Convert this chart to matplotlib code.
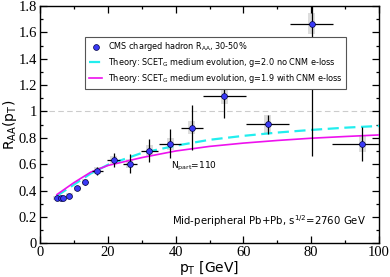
import numpy as np
import matplotlib.pyplot as plt
from matplotlib.patches import Rectangle

# CMS charged hadron R_AA, 30-50%
pt = [4.9, 6.2, 6.9, 8.6, 11.0, 13.3, 16.9, 21.7, 26.5, 32.2, 38.4, 44.8, 54.4, 67.2, 80.1, 95.1]
raa = [0.346, 0.341, 0.346, 0.361, 0.417, 0.463, 0.549, 0.632, 0.604, 0.703, 0.756, 0.877, 1.12, 0.902, 1.664, 0.751]
pt_err = [0.4, 0.4, 0.4, 0.6, 0.8, 0.9, 1.6, 2.0, 2.0, 2.5, 3.2, 3.2, 6.3, 6.3, 6.4, 9.0]
raa_err = [0.01, 0.01, 0.01, 0.012, 0.015, 0.02, 0.03, 0.05, 0.07, 0.09, 0.11, 0.17, 0.17, 0.07, 1.0, 0.13]
raa_sys = [0.015, 0.015, 0.015, 0.017, 0.02, 0.022, 0.027, 0.032, 0.035, 0.04, 0.045, 0.05, 0.06, 0.07, 0.08, 0.06]

# theory curves
pt_th = [5, 10, 15, 20, 25, 30, 40, 50, 60, 70, 80, 90, 100]
raa_nocnm = [0.36, 0.445, 0.53, 0.595, 0.64, 0.685, 0.74, 0.785, 0.815, 0.84, 0.86, 0.877, 0.89]
raa_cnm = [0.37, 0.46, 0.54, 0.59, 0.62, 0.65, 0.70, 0.735, 0.76, 0.78, 0.797, 0.81, 0.822]

xticklab = ['0', '20', '40', '60', '80', '100']
yticklab = ['0', '0.2', '0.4', '0.6', '0.8', '1', '1.2', '1.4', '1.6', '1.8']

fig = plt.figure(figsize=(3.9, 2.77), dpi=100)
ax = fig.add_axes([0.1026, 0.1217, 0.8692, 0.8566])

ax.axhline(1.0, color='#cccccc', lw=0.8, ls=(0, (5, 3)), zorder=0)

for x, y, s in zip(pt, raa, raa_sys):
    ax.add_patch(Rectangle((x - 1.0, y - s), 2.0, 2 * s, color='#dddddd', lw=0, zorder=1))

ax.plot(pt_th, raa_nocnm, color='#22eeee', lw=1.6, ls=(0, (5, 2.5)), zorder=3,
        label='Theory: SCET$_\\mathregular{G}$ medium evolution, g=2.0 no CNM e-loss')
ax.plot(pt_th, raa_cnm, color='#ee11ee', lw=1.2, zorder=3,
        label='Theory: SCET$_\\mathregular{G}$ medium evolution, g=1.9 with CNM e-loss')
ax.errorbar(pt, raa, xerr=pt_err, yerr=raa_err, fmt='none', ecolor='black', elinewidth=0.9, zorder=4)
ax.plot(pt, raa, 'o', ms=4.2, mfc='#3a3af5', mec='#000040', mew=0.5, zorder=5,
        label='CMS charged hadron R$_\\mathregular{AA}$, 30-50%')

h, l = ax.get_legend_handles_labels()
leg = ax.legend([h[2], h[0], h[1]], [l[2], l[0], l[1]], loc='upper left',
                bbox_to_anchor=(0.122, 0.888), fontsize=5.9, frameon=True, fancybox=False,
                edgecolor='#555555', framealpha=1, handlelength=1.6, borderpad=0.45,
                labelspacing=0.35, handletextpad=0.7)
leg.get_frame().set_linewidth(0.8)

ax.text(38.5, 0.565, 'N$_\\mathregular{part}$=110', fontsize=6.5)
ax.text(96, 0.14, 'Mid-peripheral Pb+Pb, s$^\\mathregular{1/2}$=2760 GeV', fontsize=7.3, ha='right')

ax.set_xlim(0, 100)
ax.set_ylim(0, 1.8)
ax.set_xticks(np.arange(0, 101, 20))
ax.set_xticks(np.arange(0, 101, 10), minor=True)
ax.set_yticks(np.arange(0, 1.81, 0.2))
ax.set_yticks(np.arange(0, 1.81, 0.1), minor=True)
ax.set_xticklabels(xticklab)
ax.set_yticklabels(yticklab)
ax.tick_params(which='both', direction='in', top=True, right=True, width=0.9)
ax.tick_params(which='major', length=5, pad=2)
ax.tick_params(which='minor', length=2.5)
for t in ax.get_xticklabels() + ax.get_yticklabels():
    t.set_fontfamily('Liberation Serif')
    t.set_fontsize(10.5)
for sp in ax.spines.values():
    sp.set_linewidth(1.0)

ax.set_xlabel('p$_\\mathregular{T}$ [GeV]', fontsize=10, labelpad=0)
ax.set_ylabel('R$_\\mathregular{AA}$(p$_\\mathregular{T}$)', fontsize=10, labelpad=0)

fig.savefig('out.png', dpi=100)
